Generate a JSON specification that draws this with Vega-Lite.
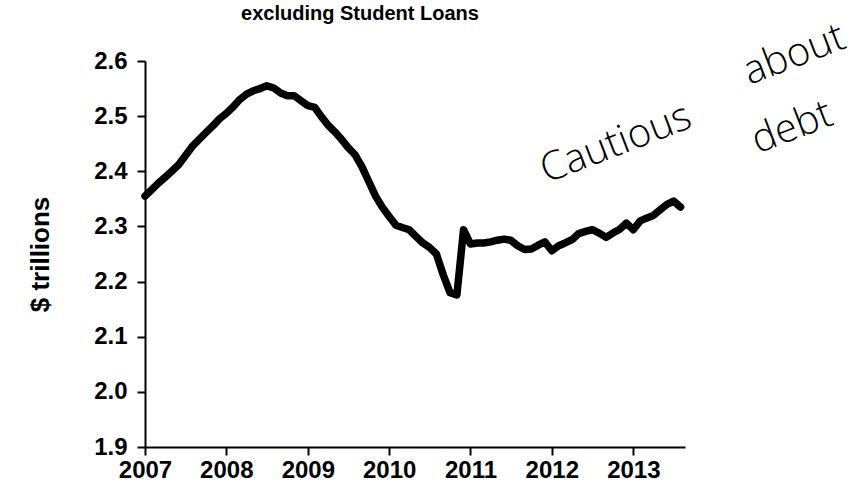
{
  "$schema": "https://vega.github.io/schema/vega-lite/v6.json",
  "width": 540,
  "height": 386,
  "autosize": {"type": "none"},
  "padding": {"left": 145, "top": 61, "right": 171, "bottom": 49},
  "background": "white",
  "config": {"view": {"stroke": null}, "font": "Liberation Sans"},
  "title": {"text": "excluding Student Loans", "fontSize": 20, "fontWeight": "bold", "font": "Liberation Sans", "color": "black", "anchor": "middle", "baseline": "alphabetic", "offset": -23, "dx": -55},
  "layer": [
    {
      "data": {"values": [
        {"date": "2007-01-01", "value": 2.355}, {"date": "2007-02-01", "value": 2.367}, {"date": "2007-03-01", "value": 2.378}, {"date": "2007-04-01", "value": 2.389},
        {"date": "2007-05-01", "value": 2.400}, {"date": "2007-06-01", "value": 2.412}, {"date": "2007-07-01", "value": 2.428}, {"date": "2007-08-01", "value": 2.445},
        {"date": "2007-09-01", "value": 2.458}, {"date": "2007-10-01", "value": 2.470}, {"date": "2007-11-01", "value": 2.482}, {"date": "2007-12-01", "value": 2.495},
        {"date": "2008-01-01", "value": 2.505}, {"date": "2008-02-01", "value": 2.517}, {"date": "2008-03-01", "value": 2.530}, {"date": "2008-04-01", "value": 2.540},
        {"date": "2008-05-01", "value": 2.546}, {"date": "2008-06-01", "value": 2.550}, {"date": "2008-07-01", "value": 2.555}, {"date": "2008-08-01", "value": 2.551},
        {"date": "2008-09-01", "value": 2.542}, {"date": "2008-10-01", "value": 2.537}, {"date": "2008-11-01", "value": 2.537}, {"date": "2008-12-01", "value": 2.528},
        {"date": "2009-01-01", "value": 2.519}, {"date": "2009-02-01", "value": 2.516}, {"date": "2009-03-01", "value": 2.500}, {"date": "2009-04-01", "value": 2.484},
        {"date": "2009-05-01", "value": 2.472}, {"date": "2009-06-01", "value": 2.458}, {"date": "2009-07-01", "value": 2.443}, {"date": "2009-08-01", "value": 2.430},
        {"date": "2009-09-01", "value": 2.408}, {"date": "2009-10-01", "value": 2.382}, {"date": "2009-11-01", "value": 2.355}, {"date": "2009-12-01", "value": 2.335},
        {"date": "2010-01-01", "value": 2.318}, {"date": "2010-02-01", "value": 2.302}, {"date": "2010-03-01", "value": 2.298}, {"date": "2010-04-01", "value": 2.294},
        {"date": "2010-05-01", "value": 2.282}, {"date": "2010-06-01", "value": 2.270}, {"date": "2010-07-01", "value": 2.262}, {"date": "2010-08-01", "value": 2.250},
        {"date": "2010-09-01", "value": 2.212}, {"date": "2010-10-01", "value": 2.180}, {"date": "2010-11-01", "value": 2.176}, {"date": "2010-12-01", "value": 2.294},
        {"date": "2011-01-01", "value": 2.268}, {"date": "2011-02-01", "value": 2.270}, {"date": "2011-03-01", "value": 2.270}, {"date": "2011-04-01", "value": 2.272},
        {"date": "2011-05-01", "value": 2.275}, {"date": "2011-06-01", "value": 2.277}, {"date": "2011-07-01", "value": 2.275}, {"date": "2011-08-01", "value": 2.265},
        {"date": "2011-09-01", "value": 2.258}, {"date": "2011-10-01", "value": 2.259}, {"date": "2011-11-01", "value": 2.266}, {"date": "2011-12-01", "value": 2.272},
        {"date": "2012-01-01", "value": 2.256}, {"date": "2012-02-01", "value": 2.265}, {"date": "2012-03-01", "value": 2.270}, {"date": "2012-04-01", "value": 2.276},
        {"date": "2012-05-01", "value": 2.287}, {"date": "2012-06-01", "value": 2.291}, {"date": "2012-07-01", "value": 2.294}, {"date": "2012-08-01", "value": 2.288},
        {"date": "2012-09-01", "value": 2.280}, {"date": "2012-10-01", "value": 2.288}, {"date": "2012-11-01", "value": 2.295}, {"date": "2012-12-01", "value": 2.306},
        {"date": "2013-01-01", "value": 2.294}, {"date": "2013-02-01", "value": 2.310}, {"date": "2013-03-01", "value": 2.315}, {"date": "2013-04-01", "value": 2.320},
        {"date": "2013-05-01", "value": 2.330}, {"date": "2013-06-01", "value": 2.340}, {"date": "2013-07-01", "value": 2.346}, {"date": "2013-08-01", "value": 2.335}
      ]},
      "mark": {"type": "line", "color": "black", "strokeWidth": 7.5, "strokeJoin": "round", "strokeCap": "round", "clip": false},
      "encoding": {
        "x": {
          "field": "date", "type": "temporal",
          "scale": {"domain": ["2007-01-01", "2013-08-21"]},
          "axis": {
            "title": null, "grid": false, "format": "%Y",
            "tickCount": {"interval": "year", "step": 1},
            "domainColor": "black", "domainWidth": 2,
            "tickColor": "black", "tickWidth": 2, "tickSize": 8,
            "labelFont": "Liberation Sans", "labelFontSize": 24, "labelFontWeight": "bold", "labelColor": "black",
            "labelPadding": 3, "labelFlush": false, "labelOverlap": false
          }
        },
        "y": {
          "field": "value", "type": "quantitative",
          "scale": {"domain": [1.9, 2.6], "nice": false, "zero": false},
          "axis": {
            "title": "$ trillions", "grid": false, "format": ".1f",
            "values": [1.9, 2.0, 2.1, 2.2, 2.3, 2.4, 2.5, 2.6],
            "domainColor": "black", "domainWidth": 2,
            "tickColor": "black", "tickWidth": 2, "tickSize": 8,
            "labelFont": "Liberation Sans", "labelFontSize": 24, "labelFontWeight": "bold", "labelColor": "black",
            "labelPadding": 10, "labelFlush": false, "labelOverlap": false,
            "titleFont": "Liberation Sans", "titleFontSize": 26, "titleFontWeight": "bold", "titleColor": "black",
            "titleX": -105, "titleY": 193, "titleAngle": -90, "titleAlign": "center", "titleBaseline": "middle"
          }
        }
      }
    },
    {
      "data": {"values": [
        {"date": "2012-10-15", "value": 2.450, "label": "Cautious"},
        {"date": "2014-12-25", "value": 2.611, "label": "about"},
        {"date": "2014-12-15", "value": 2.479, "label": "debt"}
      ]},
      "mark": {"type": "text", "angle": -21, "font": "Open Sans", "fontWeight": 300, "fontSize": 40, "color": "black", "align": "center", "baseline": "middle", "clip": false},
      "encoding": {
        "x": {"field": "date", "type": "temporal"},
        "y": {"field": "value", "type": "quantitative"},
        "text": {"field": "label"}
      }
    }
  ]
}
